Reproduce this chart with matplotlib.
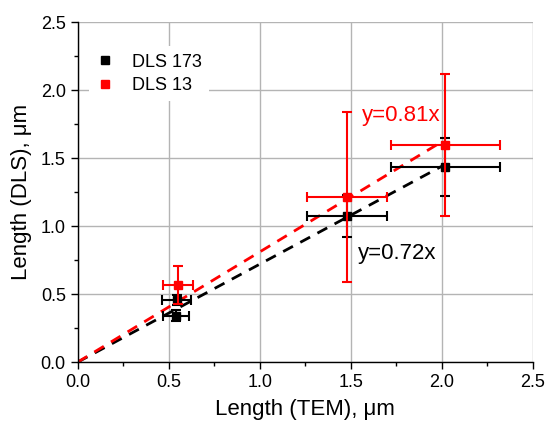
import matplotlib
matplotlib.use("Agg")
import matplotlib.pyplot as plt
from matplotlib.ticker import MultipleLocator, FormatStrFormatter
from matplotlib.lines import Line2D
import numpy as np

plt.rcParams['font.family'] = ['Liberation Sans', 'DejaVu Sans']

# TEM vs DLS lengths (um)
tem_173 = [0.54, 0.545, 1.48, 2.02]
tem_173_err = [0.073, 0.08, 0.22, 0.30]
dls_173 = [0.34, 0.455, 1.077, 1.436]
dls_173_err = [0.04, 0.035, 0.155, 0.215]

tem_13 = [0.55, 1.48, 2.02]
tem_13_err = [0.083, 0.22, 0.30]
dls_13 = [0.566, 1.215, 1.596]
dls_13_err = [0.14, 0.625, 0.52]

slope_173 = 0.72
slope_13 = 0.81
fit_x = [0.0, 2.0]
labels = ['DLS 173', 'DLS 13']

fig = plt.figure(figsize=(5.47, 4.25), dpi=100)
ax = fig.add_axes([0.142, 0.148, 0.832, 0.800])

ax.grid(True, color='#b4b4b4', linewidth=1.0, zorder=0)
ax.set_axisbelow(True)

fx = np.array(fit_x)
ax.plot(fx, slope_173 * fx, color='black', linestyle=(0, (4, 3)), linewidth=2, zorder=2)
ax.plot(fx, slope_13 * fx, color='red', linestyle=(0, (4, 3)), linewidth=2, zorder=2)

ax.errorbar(tem_173, dls_173, xerr=tem_173_err, yerr=dls_173_err, fmt='s', color='black',
            ms=6, capsize=3.5, elinewidth=1.5, capthick=1.5, zorder=3)
ax.errorbar(tem_13, dls_13, xerr=tem_13_err, yerr=dls_13_err, fmt='s', color='red',
            ms=6, capsize=3.5, elinewidth=1.5, capthick=1.5, zorder=4)

ax.text(1.56, 1.816, 'y=0.81x', color='red', fontsize=16, va='center', ha='left')
ax.text(1.54, 0.80, 'y=0.72x', color='black', fontsize=16, va='center', ha='left')

ax.set_xlim(0, 2.5)
ax.set_ylim(0, 2.5)
ax.xaxis.set_major_locator(MultipleLocator(0.5))
ax.yaxis.set_major_locator(MultipleLocator(0.5))
ax.xaxis.set_minor_locator(MultipleLocator(0.25))
ax.yaxis.set_minor_locator(MultipleLocator(0.25))
ax.xaxis.set_major_formatter(FormatStrFormatter('%.1f'))
ax.yaxis.set_major_formatter(FormatStrFormatter('%.1f'))
ax.tick_params(which='major', direction='out', length=5, width=1, labelsize=13)
ax.tick_params(which='minor', direction='out', length=3, width=1)

for s in ['top', 'right']:
    ax.spines[s].set_visible(False)
for s in ['left', 'bottom']:
    ax.spines[s].set_linewidth(1.0)

ax.set_xlabel('Length (TEM), \u03bcm', fontsize=16, labelpad=6)
ax.set_ylabel('Length (DLS), \u03bcm', fontsize=16, labelpad=6)

h = [Line2D([], [], marker='s', color='black', linestyle='none', ms=6),
     Line2D([], [], marker='s', color='red', linestyle='none', ms=6)]
ax.legend(h, labels, loc='upper left', bbox_to_anchor=(0.005, 0.955), fontsize=13,
          frameon=True, edgecolor='none', facecolor='white', framealpha=1,
          handlelength=1.0, handletextpad=1.0, labelspacing=0.35, borderpad=0.4)

fig.savefig('out.png', dpi=100)
